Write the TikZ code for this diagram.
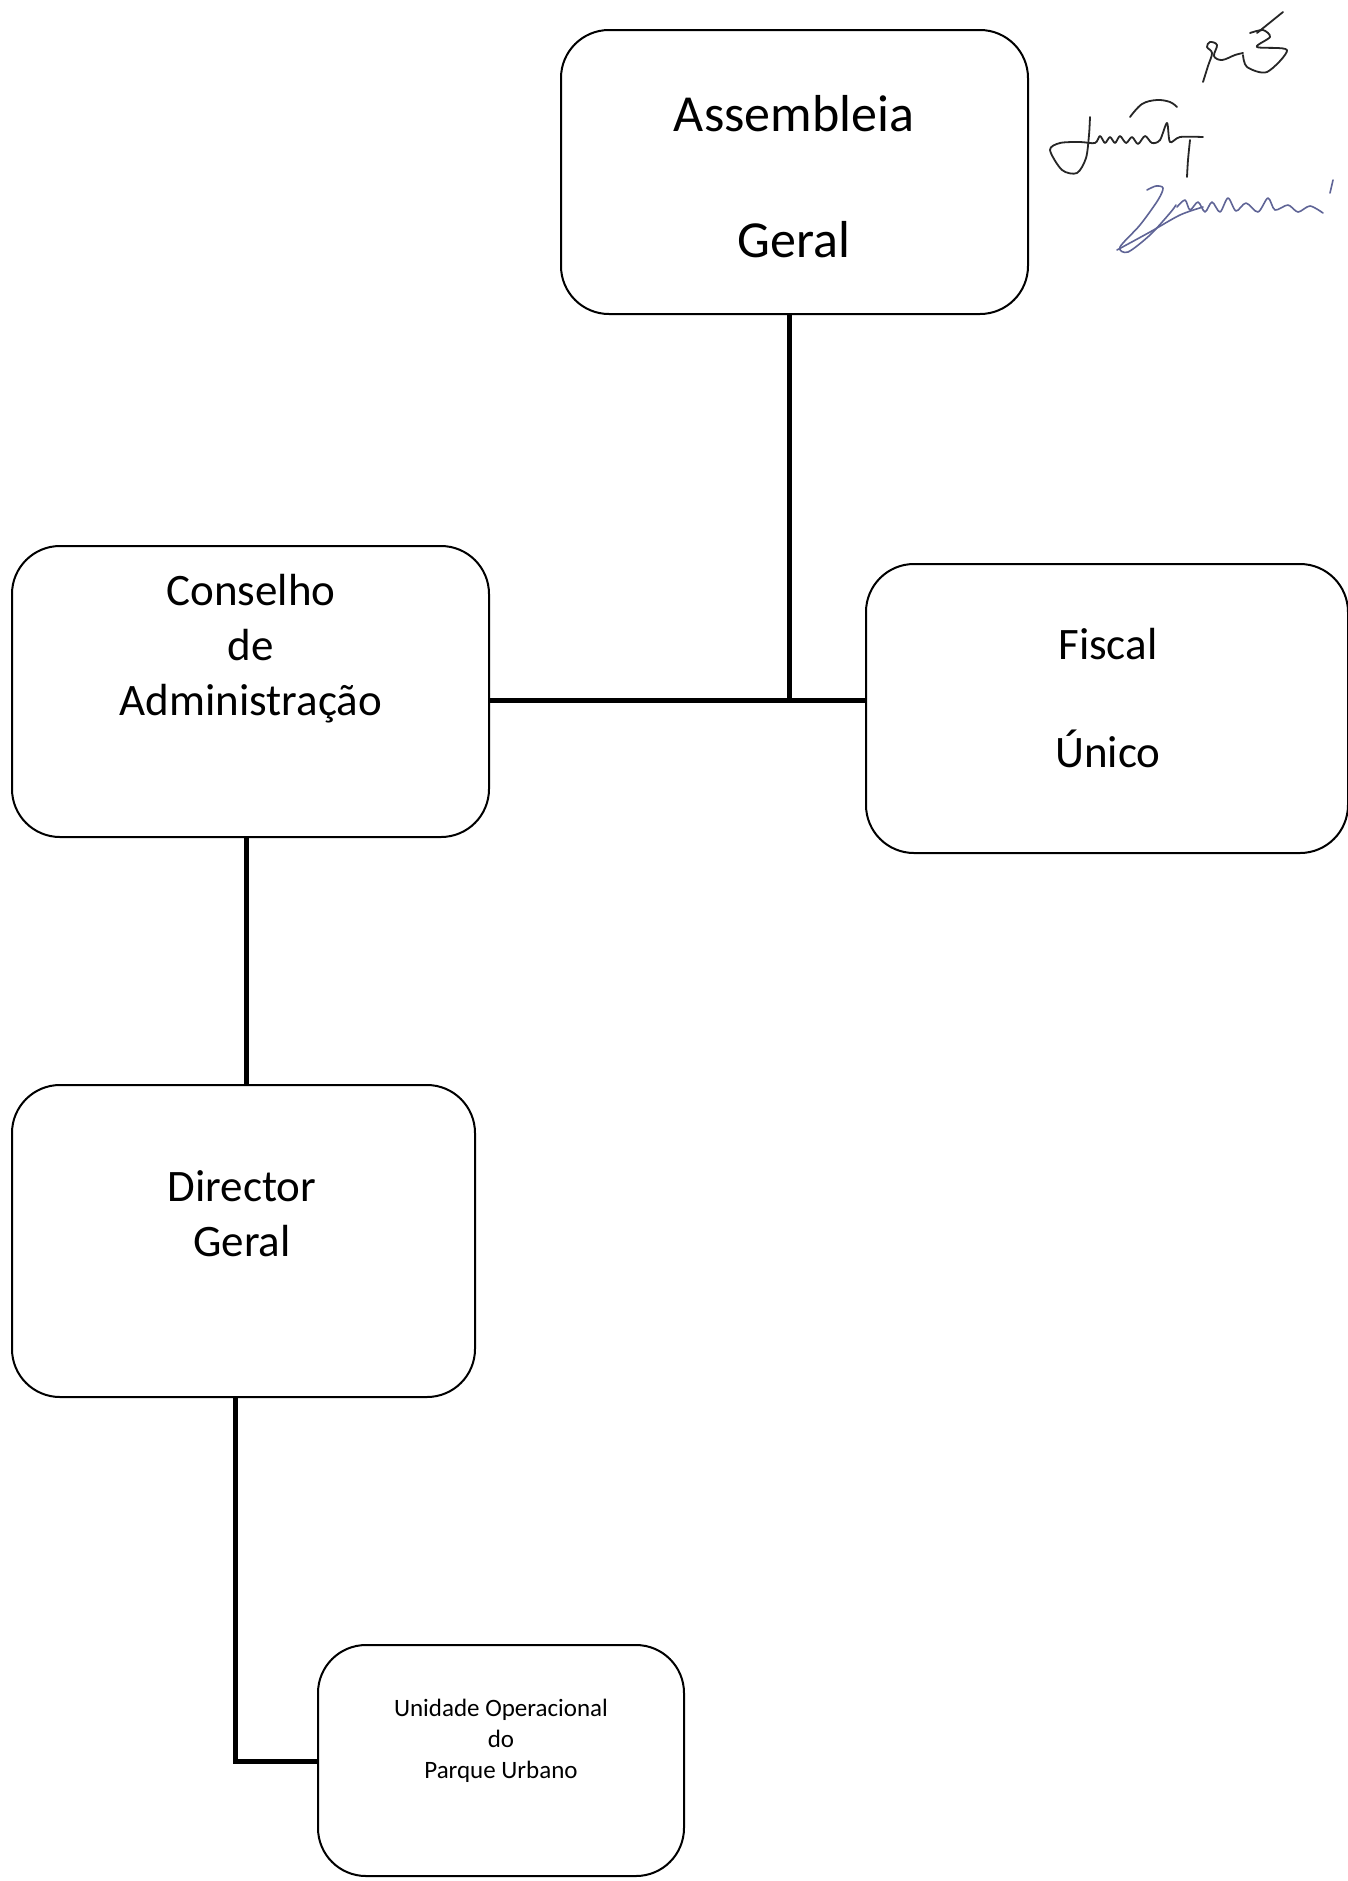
\documentclass[tikz,border=0pt]{standalone}
\usepackage{fontspec}
\setmainfont{Carlito}
\begin{document}
\begin{tikzpicture}[x=0.5pt,y=-0.5pt,
  box/.style={draw, rounded corners=24pt, line width=1pt, inner sep=0pt},
  conn/.style={line width=2.5pt},
  lbl/.style={align=center, inner sep=0pt},
  sigk/.style={line width=0.9pt, draw=black!85, line cap=round, line join=round},
  sigb/.style={line width=0.8pt, draw={rgb,255:red,95;green,100;blue,150}, line cap=round, line join=round}]
\useasboundingbox (0,0) rectangle (1348,1881);
\fill[white] (0,0) rectangle (1348,1881);

% boxes
\node[box, minimum width=233.5pt, minimum height=142pt] (asm) at (794.5,172) {};
\node[box, minimum width=238.5pt, minimum height=145.5pt] (cons) at (250.5,691.5) {};
\node[box, minimum width=241pt, minimum height=144.5pt] (fisc) at (1107,708.5) {};
\node[box, minimum width=231.5pt, minimum height=156pt] (dir) at (243.5,1241) {};
\node[box, minimum width=183pt, minimum height=115.5pt] (unid) at (501,1760.5) {};

% texts
\node[lbl, font=\fontsize{26pt}{31pt}\selectfont] (asmT) at (794,177) {Assembleia\\[32pt]Geral};
\node[lbl, font=\fontsize{22.5pt}{27.5pt}\selectfont] (consT) at (251,649) {Conselho\\de\\Administração};
\node[lbl, font=\fontsize{22.5pt}{27.5pt}\selectfont] (fiscT) at (1108,698) {Fiscal\\[26.5pt]Único};
\node[lbl, font=\fontsize{22.5pt}{27.5pt}\selectfont] (dirT) at (242,1214) {Director\\Geral};
\node[lbl, font=\fontsize{12.5pt}{15.5pt}\selectfont] (unidT) at (501,1741) {Unidade Operacional\\do\\Parque Urbano};

% connectors
\coordinate (j) at (789,700);
\coordinate (k) at (235,1761);
\draw[conn] (asm.south -| j) -- (j);
\draw[conn] (cons.east |- j) -- (fisc.west |- j);
\draw[conn] (cons.south -| 246,0) -- (dir.north -| 246,0);
\draw[conn] (dir.south -| k) -- (k) -- (unid.west |- k);

% signatures
\draw[sigk] plot[smooth, tension=0.6] coordinates {(1203,82) (1208,66) (1212,53) (1207,47) (1210,42) (1217,45) (1214,56) (1222,60) (1235,55) (1243,53)};
\draw[sigk] plot[smooth, tension=0.5] coordinates {(1250,33) (1263,30) (1270,37) (1257,47) (1287,50) (1267,72) (1247,67) (1243,55)};
\draw[sigk] (1283,12) -- (1257,33);
\draw[sigk] plot[smooth, tension=0.5] coordinates {(1090,117) (1089,135) (1086,158) (1077,173) (1062,170) (1050,150) (1060,143) (1080,142) (1095,143) (1100,136) (1105,143) (1110,137) (1115,143) (1120,136) (1126,143) (1132,137) (1138,144) (1145,136) (1152,143) (1160,140) (1167,123) (1170,142) (1180,137) (1203,137)};
\draw[sigk] plot[smooth, tension=0.6] coordinates {(1190,140) (1188,160) (1187,177)};
\draw[sigk] plot[smooth, tension=0.6] coordinates {(1130,117) (1142,104) (1157,100) (1170,102) (1177,107)};
\draw[sigb] plot[smooth, tension=0.5] coordinates {(1147,190) (1156,186) (1163,188) (1158,200) (1140,225) (1120,247) (1128,252) (1150,235) (1170,213) (1176,205)};
\draw[sigb] plot[smooth, tension=0.5] coordinates {(1117,250) (1150,232) (1180,215) (1203,207)};
\draw[sigb] plot[smooth, tension=0.5] coordinates {(1177,207) (1185,200) (1190,210) (1198,202) (1205,212) (1212,202) (1220,212) (1228,198) (1236,211) (1246,203) (1258,212) (1268,198) (1275,210) (1288,205) (1298,212) (1310,206) (1323,213)};
\draw[sigb] (1333,180) -- (1330,193);
\end{tikzpicture}
\end{document}
